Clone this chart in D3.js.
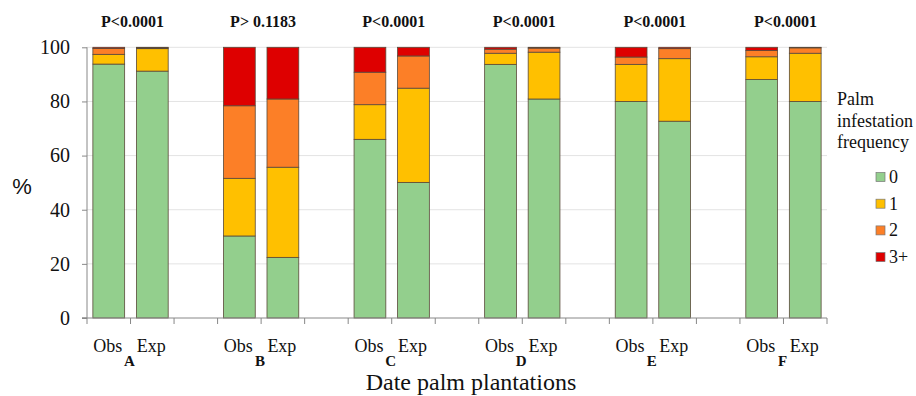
<!DOCTYPE html>
<html><head><meta charset="utf-8">
<script src="https://cdn.jsdelivr.net/npm/d3@7"></script>
<style>body{margin:0;background:#fff}</style>
</head><body>
<svg id="c" width="916" height="396"></svg>
<script>
const groups = ["A","B","C","D","E","F"];
const pLabels = ["P<0.0001","P> 0.1183","P<0.0001","P<0.0001","P<0.0001","P<0.0001"];
const kinds = ["Obs","Exp"];
const levels = ["0","1","2","3+"];
// values per bar in order A Obs, A Exp, B Obs, ...
const freq0  = [93.8, 91.2, 30.3, 22.4, 66.0, 50.1, 93.7, 80.9, 80.0, 72.7, 88.1, 80.0];
const freq1  = [3.6, 8.3, 21.3, 33.3, 12.8, 34.8, 4.1, 17.3, 13.7, 23.1, 8.4, 17.8];
const freq2  = [2.2, 0.3, 26.8, 25.2, 12.0, 11.9, 1.5, 1.5, 2.7, 3.7, 2.3, 2.0];
const freq3p = [0.4, 0.2, 21.6, 19.1, 9.2, 3.2, 0.7, 0.3, 3.6, 0.5, 1.2, 0.2];
const yTicks = [0,20,40,60,80,100];
const colors = ["#93cf8d","#ffc000","#fc7f27","#de0000"];

const SERIF = "Liberation Serif";
const svg = d3.select("#c");
const m = {l:87, r:827, t:47.3, b:318};
const slots = [];
groups.forEach((g,gi)=>{ kinds.forEach(k=>slots.push(g+"|"+k)); if(gi<groups.length-1) slots.push("gap"+gi); });
const x = d3.scaleBand().domain(slots).range([m.l,m.r]).paddingInner(0.27).paddingOuter(0.135);
const y = d3.scaleLinear().domain([0,100]).range([m.b,m.t]);

const rows = [];
groups.forEach((g,gi)=>kinds.forEach((k,ki)=>{
  const i = gi*2+ki;
  rows.push({key:g+"|"+k, "0":freq0[i], "1":freq1[i], "2":freq2[i], "3+":freq3p[i]});
}));
const stack = d3.stack().keys(levels)(rows);

svg.append("g").selectAll("line").data(yTicks.filter(d=>d>0)).join("line")
  .attr("x1",m.l).attr("x2",m.r).attr("y1",d=>y(d)).attr("y2",d=>y(d))
  .attr("stroke","#e3e3e3").attr("stroke-width",1);

svg.append("g").selectAll("g").data(stack).join("g")
  .attr("fill",(d,i)=>colors[i])
  .selectAll("rect").data(d=>d).join("rect")
  .attr("x",d=>x(d.data.key)).attr("width",x.bandwidth())
  .attr("y",d=>y(d[1])).attr("height",d=>Math.max(0,y(d[0])-y(d[1])))
  .attr("stroke","#5a4a3a").attr("stroke-width",0.8);

const ya = svg.append("g").attr("transform",`translate(${m.l},0)`)
  .call(d3.axisLeft(y).tickValues(yTicks).tickSize(5).tickPadding(12));
ya.attr("font-family",SERIF).attr("font-size",20);
ya.select(".domain").attr("stroke","#888").attr("d",`M-5,${m.b}H0V${m.t}`);
ya.selectAll(".tick line").attr("stroke","#888");
ya.selectAll("text").attr("fill","#111");

const bounds = [];
slots.forEach(s=>bounds.push(x(s)-x.step()*x.paddingInner()/2));
bounds.push(m.r);
const xa = svg.append("g").attr("font-family",SERIF);
xa.append("line").attr("x1",m.l-5).attr("x2",m.r).attr("y1",m.b).attr("y2",m.b).attr("stroke","#888");
xa.selectAll("line.t").data(bounds).join("line").attr("class","t")
  .attr("x1",d=>d).attr("x2",d=>d).attr("y1",m.b).attr("y2",m.b+6).attr("stroke","#888");
xa.selectAll("text.k").data(rows).join("text").attr("class","k")
  .attr("x",d=>x(d.key)+x.bandwidth()/2-1).attr("y",352)
  .attr("text-anchor","middle").attr("font-size",18).attr("fill","#111")
  .text(d=>d.key.split("|")[1]);
xa.selectAll("text.g").data(groups).join("text").attr("class","g")
  .attr("x",g=>x(g+"|Exp")-x.step()*x.paddingInner()/2-1).attr("y",366)
  .attr("text-anchor","middle").attr("font-weight","bold").attr("font-size",15).attr("fill","#111")
  .text(g=>g);

svg.append("g").attr("font-family",SERIF).selectAll("text.p").data(groups).join("text").attr("class","p")
  .attr("x",g=>x(g+"|Exp")-x.step()*x.paddingInner()/2+2).attr("y",27)
  .attr("text-anchor","middle").attr("font-weight","bold").attr("font-size",16).attr("fill","#111")
  .text((g,i)=>pLabels[i]);

svg.append("text").attr("x",22).attr("y",194).attr("text-anchor","middle")
  .attr("font-family","Liberation Sans").attr("font-size",22).attr("fill","#111").text("%");
svg.append("text").attr("x",471).attr("y",390).attr("text-anchor","middle")
  .attr("font-family",SERIF).attr("font-size",24).attr("fill","#111").text("Date palm plantations");

const lg = svg.append("g").attr("font-family",SERIF);
["Palm","infestation","frequency"].forEach((t,i)=>lg.append("text")
  .attr("x",837).attr("y",105+i*21.5).attr("font-size",18).attr("fill","#111").text(t));
const li = lg.selectAll("g.i").data(levels).join("g").attr("class","i")
  .attr("transform",(d,i)=>`translate(876,${177+i*26.7})`);
li.append("rect").attr("x",0).attr("y",-4.5).attr("width",9).attr("height",9)
  .attr("fill",(d,i)=>colors[i]).attr("stroke","#777").attr("stroke-width",0.7);
li.append("text").attr("x",13).attr("y",6).attr("font-size",18).attr("fill","#111").text(d=>d);
</script>
</body></html>
